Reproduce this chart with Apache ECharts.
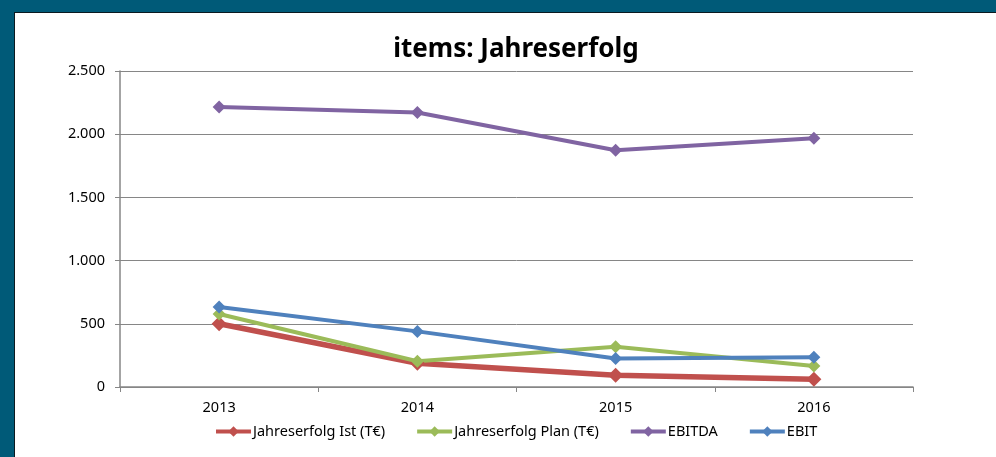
<!DOCTYPE html>
<html>
<head>
<meta charset="utf-8">
<script src="https://cdn.jsdelivr.net/npm/echarts@6/dist/echarts.min.js"></script>
<style>
  html, body { margin: 0; padding: 0; }
  body { width: 996px; height: 457px; background: #005a78; position: relative; overflow: hidden; }
  #main { position: absolute; left: 14px; top: 12px; width: 982px; height: 445px;
          background: #fff; border-left: 1px solid #0b1a20; border-top: 1px solid #0b1a20; }
</style>
</head>
<body>
<div id="main"></div>
<script>
var years = ['2013', '2014', '2015', '2016'];
var ist = [500, 188, 93, 61];
var plan = [577, 204, 318, 167];
var ebitda = [2215, 2172, 1873, 1968];
var ebit = [633, 440, 225, 236];

var font = 'Noto Sans';

function deNum(v) {
    return String(v).replace(/\B(?=(\d{3})+(?!\d))/g, '.');
}

var myChart = echarts.init(document.getElementById('main'));

function lineSeries(name, data, color, width, size) {
    return {
        name: name,
        type: 'line',
        data: data,
        symbol: 'diamond',
        symbolSize: size,
        lineStyle: { color: color, width: width },
        itemStyle: { color: color },
        emphasis: { disabled: true },
        animation: false
    };
}

myChart.setOption({
    title: {
        text: 'items: Jahreserfolg',
        left: 496,
        top: 19,
        textAlign: 'center',
        textStyle: { fontFamily: font, fontSize: 26, fontWeight: 'bold', color: '#000' }
    },
    legend: {
        bottom: 14,
        left: 194,
        itemWidth: 35,
        itemHeight: 13,
        itemGap: 30,
        lineStyle: { width: 4 },
        textStyle: { fontFamily: font, fontSize: 14.5, color: '#000', padding: [0, 0, 0, -3] },
        data: ['Jahreserfolg Ist (T€)', 'Jahreserfolg Plan (T€)', 'EBITDA', 'EBIT']
    },
    grid: { left: 105, right: 84, top: 58, bottom: 71 },
    xAxis: {
        type: 'category',
        data: years,
        boundaryGap: true,
        axisLine: { lineStyle: { color: '#868686', width: 1.5 } },
        axisTick: { show: true, length: 5, alignWithLabel: false, lineStyle: { color: '#868686' } },
        axisLabel: { fontFamily: font, fontSize: 14.5, color: '#000', margin: 13 }
    },
    yAxis: {
        type: 'value',
        min: 0,
        max: 2500,
        interval: 500,
        axisLine: { show: true, lineStyle: { color: '#868686', width: 1.5 } },
        axisTick: { show: true, length: 5, lineStyle: { color: '#868686' } },
        axisLabel: { fontFamily: font, fontSize: 14.5, color: '#000', margin: 15, formatter: deNum },
        splitLine: { lineStyle: { color: '#868686', width: 1 } }
    },
    series: [
        lineSeries('Jahreserfolg Ist (T€)', ist, '#c0504d', 5.5, 15),
        lineSeries('Jahreserfolg Plan (T€)', plan, '#9bbb59', 4, 13),
        lineSeries('EBITDA', ebitda, '#8064a2', 4, 13),
        lineSeries('EBIT', ebit, '#4f81bd', 4, 13)
    ]
});
</script>
</body>
</html>
